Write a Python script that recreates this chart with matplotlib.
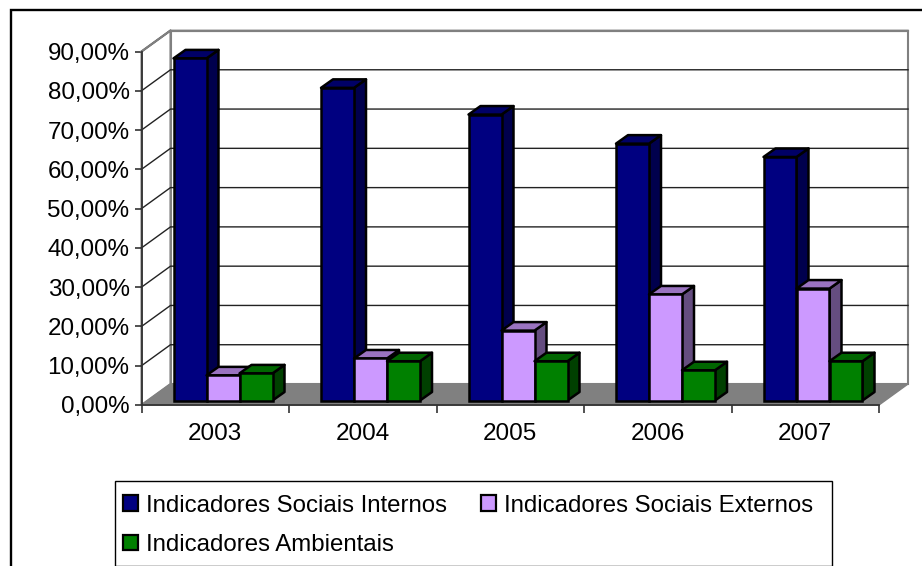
import matplotlib
matplotlib.use("Agg")
import matplotlib.pyplot as plt
from matplotlib.patches import Polygon, Rectangle, Patch

plt.rcParams['font.family'] = ['Liberation Sans', 'DejaVu Sans']

years = ['2003', '2004', '2005', '2006', '2007']
internos = [87.1, 79.6, 72.8, 65.4, 62.0]
externos = [6.4, 10.7, 17.8, 27.0, 28.5]
ambientais = [6.9, 10.0, 10.0, 7.7, 10.0]
y_ticks = [0, 10, 20, 30, 40, 50, 60, 70, 80, 90]
y_labels = ['0,00%', '10,00%', '20,00%', '30,00%', '40,00%', '50,00%', '60,00%', '70,00%', '80,00%', '90,00%']

W, H = 922, 566
PX = 5 / (879 - 141.5)   # x units per pixel
PY = 90 / (405 - 51.5)   # y units per pixel

wall_dx, wall_dy = 29 * PX, 21 * PY
bar_dx, bar_dy = 12 * PX, 8.5 * PY
floor_dx, floor_dy = 5 * PX, 4.5 * PY
bar_w = 33 * PX

fig = plt.figure(figsize=(W / 100, H / 100), dpi=100)
ax = fig.add_axes([141.5 / W, 1 - 405 / H, (879 - 141.5) / W, (405 - 51.5) / H])
ax.set_xlim(0, 5)
ax.set_ylim(0, 90)
ax.patch.set_visible(False)

# outer frame of the chart, runs off the right and bottom of the picture
fig.add_artist(Rectangle((10.5 / W, -0.02), 1.02, 1.02 - 9.5 / H, transform=fig.transFigure,
                         fill=False, ec='black', lw=1.7))

# walls and floor
ax.add_patch(Polygon([(0, 0), (wall_dx, wall_dy), (wall_dx, 90 + wall_dy), (0, 90)],
                     fc='white', ec='#808080', lw=1.5, clip_on=False, zorder=1))
ax.add_patch(Polygon([(wall_dx, wall_dy), (5 + wall_dx, wall_dy), (5 + wall_dx, 90 + wall_dy), (wall_dx, 90 + wall_dy)],
                     fc='white', ec='#808080', lw=1.5, clip_on=False, zorder=1))
ax.add_patch(Polygon([(0, 0), (5, 0), (5 + wall_dx, wall_dy), (wall_dx, wall_dy)],
                     fc='#808080', ec='#808080', lw=1, clip_on=False, zorder=1))
for t in y_ticks[1:]:
    ax.plot([0, wall_dx, 5 + wall_dx], [t, t + wall_dy, t + wall_dy], color='#222222', lw=1,
            clip_on=False, zorder=2)
ax.plot([0, wall_dx], [90, 90 + wall_dy], color='#808080', lw=1.5, clip_on=False, zorder=2)
ax.plot([wall_dx, 5 + wall_dx], [90 + wall_dy, 90 + wall_dy], color='#808080', lw=1.5, clip_on=False, zorder=2)


def bar3d(x, v, front, top, side, z):
    x0 = x + floor_dx
    x1 = x0 + bar_w
    y0 = floor_dy
    y1 = v + floor_dy
    ax.add_patch(Polygon([(x1, y0), (x1 + bar_dx, y0 + bar_dy), (x1 + bar_dx, y1 + bar_dy), (x1, y1)],
                         fc=side, ec='black', lw=1.8, joinstyle='round', clip_on=False, zorder=z))
    ax.add_patch(Polygon([(x0, y1), (x1, y1), (x1 + bar_dx, y1 + bar_dy), (x0 + bar_dx, y1 + bar_dy)],
                         fc=top, ec='black', lw=1.8, joinstyle='round', clip_on=False, zorder=z))
    ax.add_patch(Rectangle((x0, y0), bar_w, y1 - y0, fc=front, ec='black', lw=1.8, clip_on=False, zorder=z + 0.1))


series = [
    (internos, '#000080', '#000066', '#00004d'),
    (externos, '#cc99ff', '#9a73c0', '#654d80'),
    (ambientais, '#008000', '#006600', '#004000'),
]
for i in range(len(years)):
    left = i + 27 * PX
    for j, (vals, front, top, side) in enumerate(series):
        bar3d(left + j * bar_w, vals[i], front, top, side, 3 + j + i * 3)

ax.set_xticks(range(6))
ax.set_xticklabels([])
for i, y in enumerate(years):
    ax.text(i + 0.5, -7.4, y, ha='center', va='center', fontsize=17.5)
ax.set_yticks(y_ticks)
ax.set_yticklabels(y_labels, fontsize=17.4)
ax.tick_params(axis='y', length=5, width=1.2, pad=3.6, color='#333333', direction='out')
ax.tick_params(axis='x', length=6, width=1.2, color='#333333', direction='out')
for s in ['top', 'right']:
    ax.spines[s].set_visible(False)
for s in ['left', 'bottom']:
    ax.spines[s].set_color('#333333')
    ax.spines[s].set_linewidth(1.3)
    ax.spines[s].set_zorder(40)

# legend frame drawn apart: the original has wider word gaps than the font gives
fig.add_artist(Rectangle((114.5 / W, 1 - 565.5 / H), (832 - 114.5) / W, (565.5 - 481) / H,
                         transform=fig.transFigure, fc='white', ec='black', lw=1))
handles = [Patch(fc=s[1], ec='black', lw=1.6) for s in series]
leg = fig.legend([handles[0], handles[2], handles[1]],
                 ['Indicadores Sociais Internos', 'Indicadores Ambientais', 'Indicadores Sociais Externos'],
                 ncol=2, loc='lower left', bbox_to_anchor=(123 / W, 1 - 556 / H), borderaxespad=0,
                 fontsize=17.3, frameon=False, borderpad=0,
                 handlelength=0.62, handleheight=0.62, handletextpad=0.33, columnspacing=1.42, labelspacing=0.72)
leg.set_zorder(5)

fig.savefig('out.png', dpi=100)
